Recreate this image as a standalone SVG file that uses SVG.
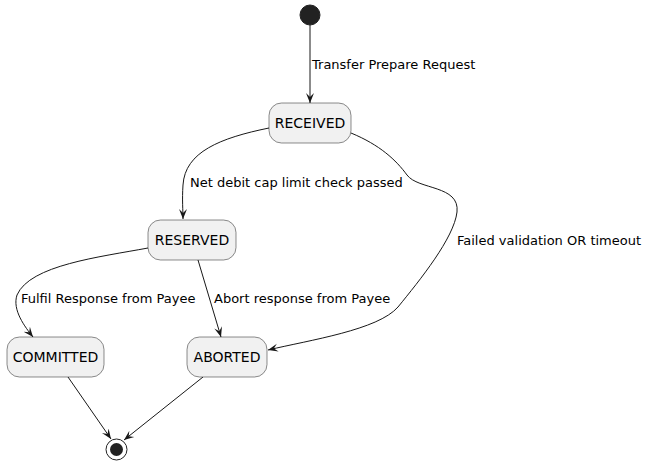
<svg xmlns="http://www.w3.org/2000/svg" width="649" height="465" viewBox="0 0 649 465">
<style>
.st{fill:#F1F1F1;stroke:#181818;stroke-width:0.5}
.sn{font-family:"DejaVu Sans",sans-serif;font-size:14px;fill:#000}
.lb{font-family:"DejaVu Sans",sans-serif;font-size:13px;fill:#000}
.e{fill:none;stroke:#181818;stroke-width:1}
</style>
<defs>
<marker id="a" viewBox="0 0 10 10" refX="10" refY="5" markerWidth="10" markerHeight="10" markerUnits="userSpaceOnUse" orient="auto">
<path d="M0,1 L10,5 L0,9 L4,5 Z" fill="#181818"/>
</marker>
</defs>
<rect width="649" height="465" fill="#fff"/>
<g id="connectors">
<path class="e" d="M310,25 L310,103" marker-end="url(#a)"/>
<path class="e" d="M269,128 C220,138 185,152 183,185 C182,200 183,210 183,219" marker-end="url(#a)"/>
<path class="e" d="M351,133 C380,145 396,160 407,175 C418,190 460,185 457,212 C454,238 420,280 398,307 C378,330 310,340 268,350" marker-end="url(#a)"/>
<path class="e" d="M148,248 C100,257 30,265 17,295 C12,310 25,327 33,337" marker-end="url(#a)"/>
<path class="e" d="M198,260 L221,337" marker-end="url(#a)"/>
<path class="e" d="M68,377 L111,439" marker-end="url(#a)"/>
<path class="e" d="M203,377 L124,440" marker-end="url(#a)"/>
<text class="lb" x="312" y="69">Transfer Prepare Request</text>
<text class="lb" x="190" y="187">Net debit cap limit check passed</text>
<text class="lb" x="457" y="245">Failed validation OR timeout</text>
<text class="lb" x="21" y="303">Fulfil Response from Payee</text>
<text class="lb" x="214" y="303">Abort response from Payee</text>
</g>
<g id="start"><circle cx="310" cy="15" r="10" fill="#222" stroke="#222"/></g>
<g id="RECEIVED"><rect class="st" x="269" y="103" width="82" height="40" rx="12.5"/><text class="sn" x="310" y="128" text-anchor="middle">RECEIVED</text></g>
<g id="RESERVED"><rect class="st" x="148" y="220" width="88" height="40" rx="12.5"/><text class="sn" x="192" y="245" text-anchor="middle">RESERVED</text></g>
<g id="COMMITTED"><rect class="st" x="7" y="337" width="97" height="40" rx="12.5"/><text class="sn" x="55.5" y="362" text-anchor="middle">COMMITTED</text></g>
<g id="ABORTED"><rect class="st" x="187" y="337" width="80" height="40" rx="12.5"/><text class="sn" x="227" y="362" text-anchor="middle">ABORTED</text></g>
<g id="end"><circle cx="116.5" cy="449.5" r="10.5" fill="none" stroke="#222" stroke-width="1"/><circle cx="116.5" cy="449.5" r="6.5" fill="#222"/></g>
</svg>
